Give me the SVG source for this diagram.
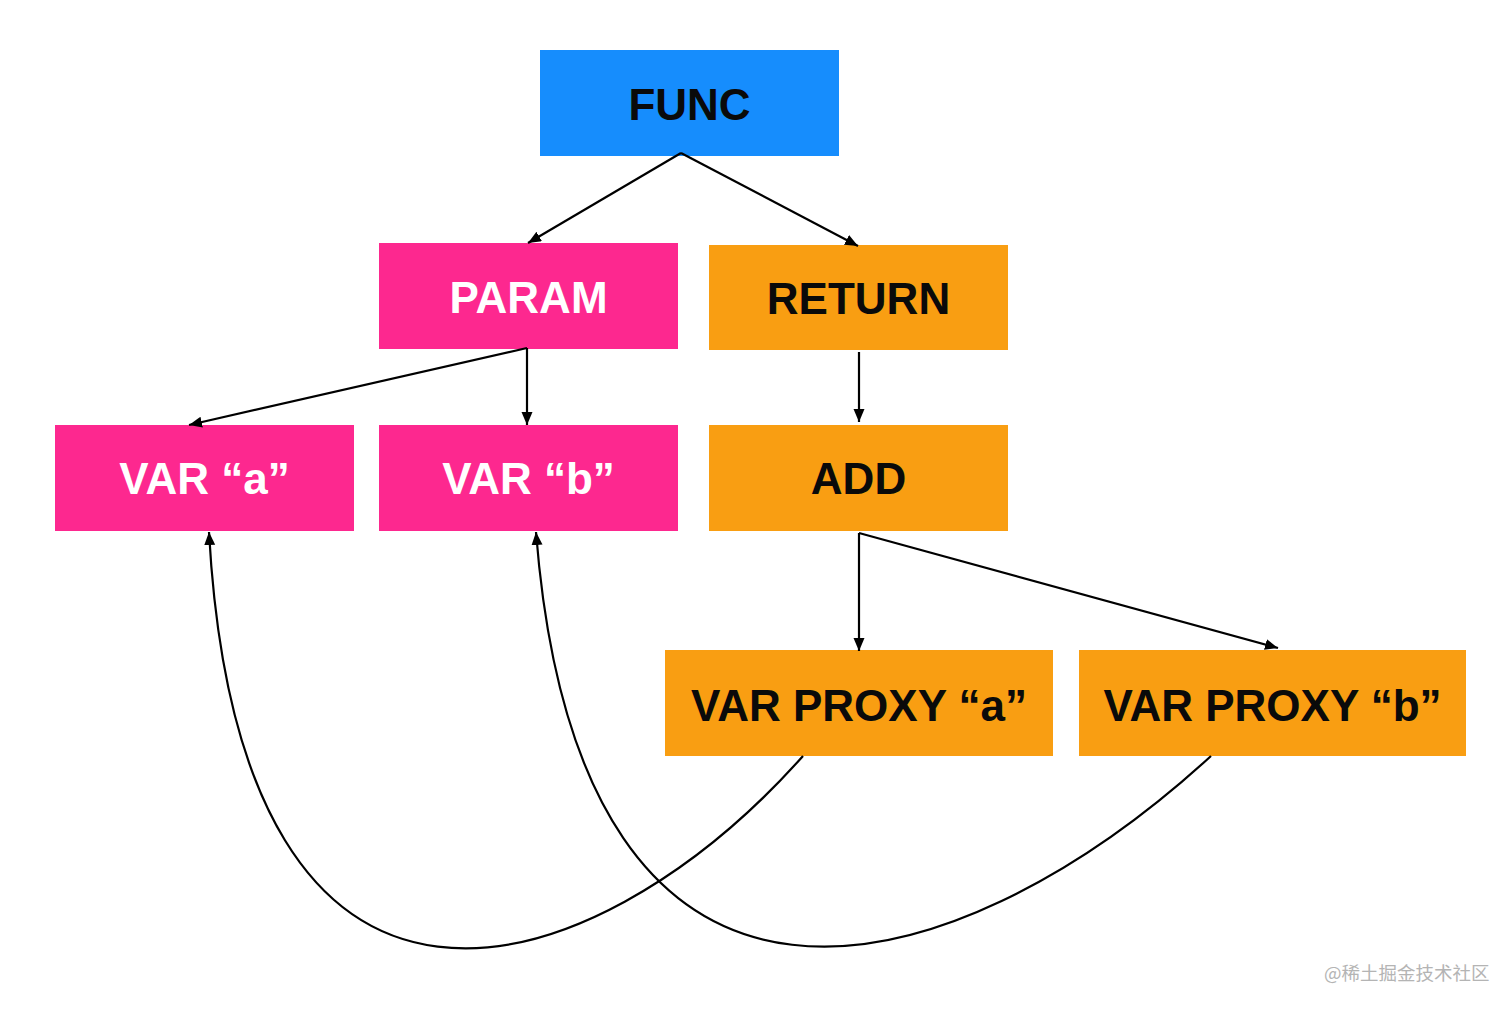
<svg xmlns="http://www.w3.org/2000/svg" width="1512" height="1011" viewBox="0 0 1512 1011">
<style>
.blue{fill:#168dfd}
.pink{fill:#fd288f}
.orange{fill:#f99e12}
.lbl{font-family:"Liberation Sans",Arial,Helvetica,sans-serif;font-weight:bold;font-size:44px;text-anchor:middle}
.dark{fill:#0a0a0a}
.light{fill:#ffffff}
.edge{fill:none;stroke:#000;stroke-width:2.2}
.wm{font-family:"Noto Sans CJK SC","Noto Sans",sans-serif;font-size:18.5px;fill:#b4b4b4}
</style>
<defs>
<marker id="arr" markerUnits="userSpaceOnUse" markerWidth="16" markerHeight="14" refX="13" refY="5.5" orient="auto">
<path d="M0,0 L13,5.5 L0,11 z" fill="#000"/>
</marker>
</defs>
<rect width="1512" height="1011" fill="#fff"/>
<g id="func"><rect class="blue" x="540" y="50" width="299" height="106"/><text class="lbl dark" x="689.5" y="120">FUNC</text></g>
<g id="param"><rect class="pink" x="379" y="243" width="299" height="106"/><text class="lbl light" x="528.5" y="313">PARAM</text></g>
<g id="return"><rect class="orange" x="709" y="245" width="299" height="105"/><text class="lbl dark" x="858.5" y="314">RETURN</text></g>
<g id="var-a"><rect class="pink" x="55" y="425" width="299" height="106"/><text class="lbl light" x="204.5" y="494">VAR “a”</text></g>
<g id="var-b"><rect class="pink" x="379" y="425" width="299" height="106"/><text class="lbl light" x="528.5" y="494">VAR “b”</text></g>
<g id="add"><rect class="orange" x="709" y="425" width="299" height="106"/><text class="lbl dark" x="858.5" y="494">ADD</text></g>
<g id="var-proxy-a"><rect class="orange" x="665" y="650" width="388" height="106"/><text class="lbl dark" x="859" y="721">VAR PROXY “a”</text></g>
<g id="var-proxy-b"><rect class="orange" x="1079" y="650" width="387" height="106"/><text class="lbl dark" x="1272.5" y="721">VAR PROXY “b”</text></g>
<g id="connectors">
<path class="edge" marker-end="url(#arr)" d="M681,153 L528,243"/>
<path class="edge" marker-end="url(#arr)" d="M681,153 L858,246"/>
<path class="edge" marker-end="url(#arr)" d="M527,348 L189,425"/>
<path class="edge" marker-end="url(#arr)" d="M527,348 L527,425"/>
<path class="edge" marker-end="url(#arr)" d="M859,352 L859,422"/>
<path class="edge" marker-end="url(#arr)" d="M859,533 L859,651"/>
<path class="edge" marker-end="url(#arr)" d="M859,533 L1278,648"/>
<path class="edge" marker-end="url(#arr)" d="M803,756 C590,995 240,1100 209,532"/>
<path class="edge" marker-end="url(#arr)" d="M1211,756 C950,995 580,1095 536,532"/>
</g>
<text class="wm" x="1324" y="980">@稀土掘金技术社区</text>
</svg>
